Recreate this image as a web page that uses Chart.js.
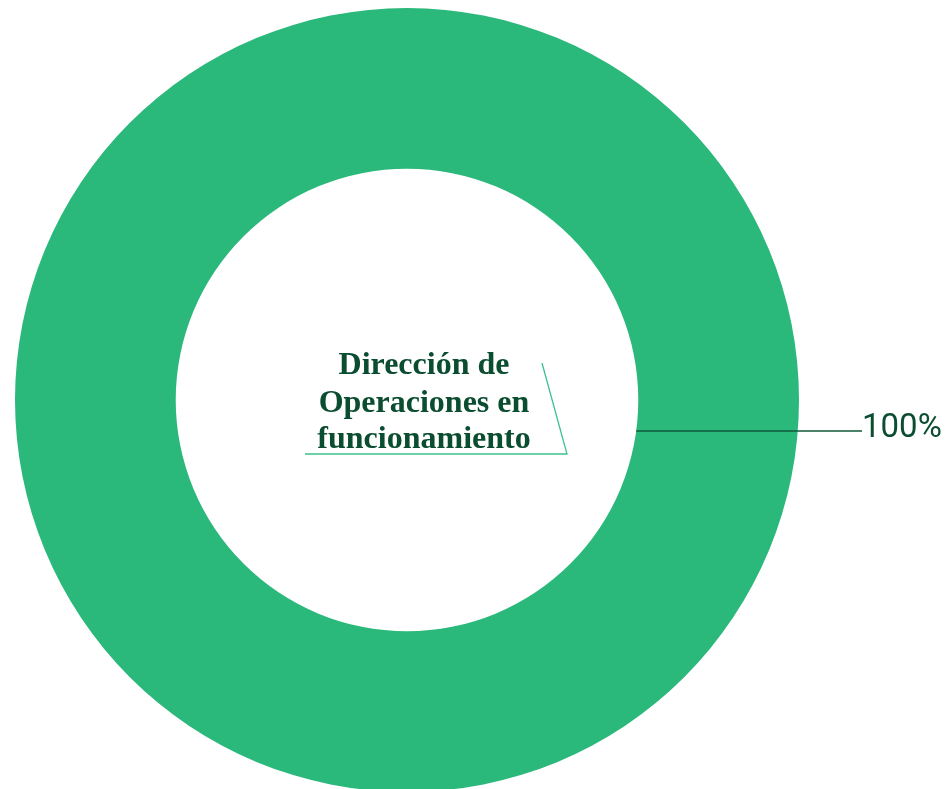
<!DOCTYPE html>
<html>
<head>
<meta charset="utf-8">
<script src="https://cdn.jsdelivr.net/npm/chart.js@4/dist/chart.umd.min.js"></script>
<style>
  html, body { margin: 0; padding: 0; background: #ffffff; overflow: hidden; }
  #wrap { position: relative; width: 946px; height: 792px; }
</style>
</head>
<body>
<div id="wrap"><canvas id="c" width="946" height="792"></canvas></div>
<script>
const categories = ["Dirección de Operaciones en funcionamiento"];
const centerLines = ["Dirección de", "Operaciones en", "funcionamiento"];
const values = [100];
const valueLabels = ["100%"];
const colors = ["#2bb87b"];

const labelPlugin = {
  id: 'labels',
  afterDatasetsDraw(chart) {
    const ctx = chart.ctx;
    const arc = chart.getDatasetMeta(0).data[0];
    const cx = arc.x, cy = arc.y;
    const ro = arc.outerRadius, ri = arc.innerRadius;

    // leader line from inner edge to label
    const ly = cy + 31;
    const x0 = cx + Math.sqrt(ri * ri - 31 * 31);
    const x1 = cx + ro + 63;
    ctx.save();
    ctx.strokeStyle = '#0f5a38';
    ctx.lineWidth = 1.3;
    ctx.beginPath();
    ctx.moveTo(x0, ly);
    ctx.lineTo(x1, ly);
    ctx.stroke();

    ctx.fillStyle = '#0b4d31';
    ctx.font = '400 33px Roboto';
    ctx.textAlign = 'left';
    ctx.textBaseline = 'middle';
    ctx.fillText(valueLabels[0], x1, ly - 2);

    // center text
    ctx.font = 'bold 32px "Liberation Serif"';
    ctx.textAlign = 'center';
    ctx.textBaseline = 'alphabetic';
    const tx = cx + 17;
    const baselines = [cy - 26, cy + 11.5, cy + 48];
    centerLines.forEach((t, i) => ctx.fillText(t, tx, baselines[i]));

    // decorative bracket line
    ctx.strokeStyle = '#3cc28c';
    ctx.lineWidth = 1.3;
    ctx.beginPath();
    ctx.moveTo(cx + 135, cy - 37);
    ctx.lineTo(cx + 160, cy + 54);
    ctx.lineTo(cx - 102, cy + 54);
    ctx.stroke();
    ctx.restore();
  }
};

new Chart(document.getElementById('c'), {
  type: 'doughnut',
  data: {
    labels: categories,
    datasets: [{
      data: values,
      backgroundColor: colors,
      borderWidth: 0,
      hoverOffset: 0
    }]
  },
  options: {
    responsive: false,
    animation: false,
    cutout: '59%',
    layout: { padding: { left: 15, right: 147, top: 8, bottom: 0 } },
    plugins: {
      legend: { display: false },
      tooltip: { enabled: false }
    }
  },
  plugins: [labelPlugin]
});
</script>
</body>
</html>
